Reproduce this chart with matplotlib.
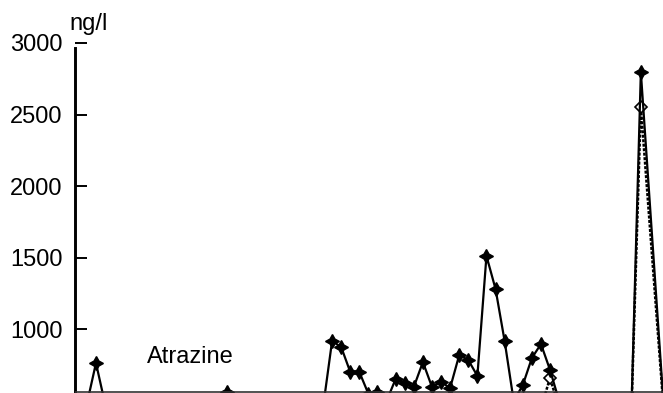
import matplotlib
matplotlib.use("Agg")
import matplotlib.pyplot as plt

plt.rcParams['font.family'] = ['Liberation Sans', 'DejaVu Sans']

# Atrazine (filled markers) - sampling week and concentration in ng/l
atr_week = [-1, 0, 1, 13.4, 14.4, 15.4, 25, 26, 27, 28, 29, 30, 31, 32, 33, 34,
            35, 36, 37, 38, 39, 40, 41, 42, 43, 44, 45, 46, 47, 48, 49, 50, 51,
            59, 60, 62.5]
atr_conc = [480, 765, 480, 450, 565, 450, 453, 919, 877, 703, 703, 550, 565, 500,
            654, 626, 598, 772, 598, 633, 591, 821, 786, 675, 1513, 1282, 919,
            500, 611, 800, 898, 717, 500, 520, 2797, 480]

# second series (open markers)
sec_week = [49, 50, 51, 59, 60, 62.5]
sec_conc = [450, 661, 450, 500, 2553, 450]

yticks = [500, 1000, 1500, 2000, 2500, 3000]
ytick_labels = ['500', '1000', '1500', '2000', '2500', '3000']
series_label = 'Atrazine'
unit_label = 'ng/l'
scan_line_value = 566

fig = plt.figure(figsize=(6.63, 3.93), dpi=100)
W, H = 663, 393
ax = fig.add_axes([75 / W, -8 / H, (W - 75) / W, 401 / H])

ax.plot(sec_week, sec_conc, color='black', lw=1.8, ls=(0, (1.2, 0.6)),
        marker='D', ms=6, mfc='white', mec='black', mew=1.2, zorder=2)
ax.plot(atr_week, atr_conc, color='black', lw=1.6,
        marker=(4, 1, 0), ms=10, mfc='black', mec='black', zorder=3)

ax.axhline(scan_line_value, color='#333333', lw=1.2, zorder=4)

ax.set_xlim(-2.31, 62.44)
ax.set_ylim(500, 3300)

for s in ['top', 'right', 'bottom']:
    ax.spines[s].set_visible(False)
ax.spines['left'].set_linewidth(2.1)
ax.spines['left'].set_bounds(500, 2965)

ax.set_xticks([])
ax.set_yticks(yticks)
ax.set_yticklabels(ytick_labels)
ax.tick_params(axis='y', direction='in', length=8.5, width=1.4, pad=9,
               labelsize=17)

ax.text(-0.009, 1 - 30 / 401, unit_label, transform=ax.transAxes,
        fontsize=17, ha='left', va='baseline')

ax.text(5.6, 765, series_label, fontsize=17, ha='left', va='baseline')

fig.savefig('out.png', dpi=100)
